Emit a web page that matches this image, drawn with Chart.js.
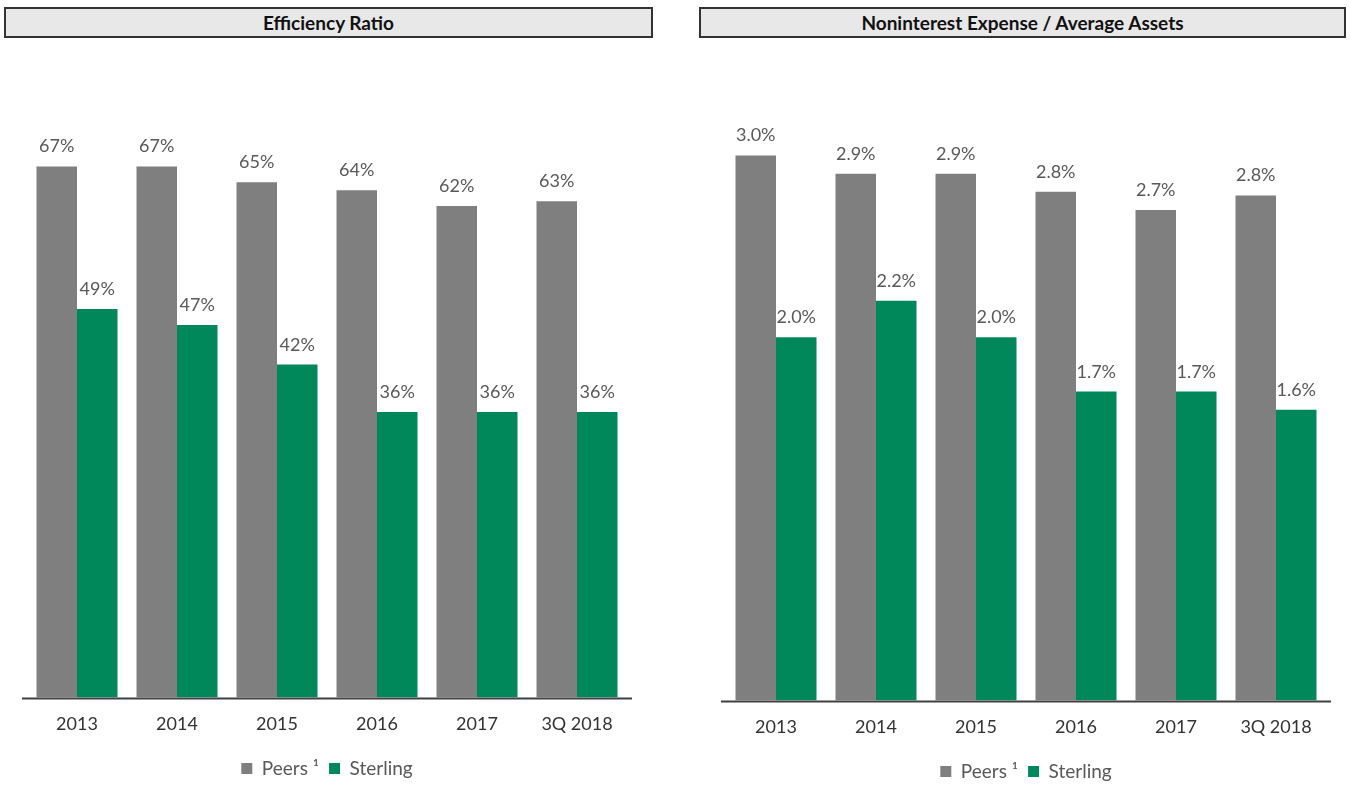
<!DOCTYPE html>
<html>
<head>
<meta charset="utf-8">
<script src="https://cdn.jsdelivr.net/npm/chart.js@4.4.0/dist/chart.umd.min.js"></script>
<style>
  body { margin: 0; background: #fff; width: 1350px; height: 785px; position: relative; overflow: hidden; font-family: Lato, 'Open Sans', sans-serif; }
  .title { position: absolute; top: 7px; height: 27px; border: 2px solid #333; background: #e8e8e8; font-weight: bold; font-size: 19px; text-align: center; line-height: 27px; color: #111; }
  .box { position: absolute; top: 40px; height: 760px; width: 675px; }
</style>
</head>
<body>
<div class="title" style="left:4px;width:645px">Efficiency Ratio</div>
<div class="title" style="left:699px;width:643px">Noninterest Expense / Average Assets</div>
<div class="box" style="left:0"><canvas id="effChart"></canvas></div>
<div class="box" style="left:675px"><canvas id="expChart"></canvas></div>
<script>
const categories = ['2013', '2014', '2015', '2016', '2017', '3Q 2018'];
const seriesNames = ['Peers \u00B9', 'Sterling'];

const effPeers = [67, 67, 65, 64, 62, 62.6];
const effSterling = [49, 47, 42, 36, 36, 36];

const expPeers = [3.0, 2.9, 2.9, 2.8, 2.7, 2.78];
const expSterling = [2.0, 2.2, 2.0, 1.7, 1.7, 1.6];

const GRAY = '#7f7f7f';
const GREEN = '#00885a';
const FONT = 'Lato, "Open Sans", sans-serif';

// value labels above bars + the dark baseline
const barLabels = {
  id: 'barLabels',
  afterDatasetsDraw(chart, args, opts) {
    const ctx = chart.ctx;
    ctx.save();
    ctx.font = '18px ' + FONT;
    ctx.fillStyle = '#595959';
    ctx.textAlign = 'center';
    ctx.textBaseline = 'alphabetic';
    chart.data.datasets.forEach((ds, i) => {
      chart.getDatasetMeta(i).data.forEach((bar, j) => {
        ctx.fillText(opts.format(ds.data[j]), bar.x, bar.y - 14);
      });
    });
    const a = chart.chartArea;
    ctx.strokeStyle = '#404040';
    ctx.lineWidth = 2;
    ctx.beginPath();
    ctx.moveTo(a.left - 5, a.bottom + 1);
    ctx.lineTo(a.right + 5, a.bottom + 1);
    ctx.stroke();
    ctx.restore();
  }
};

function makeChart(id, peers, sterling, yMax, pad, format) {
  return new Chart(document.getElementById(id), {
    type: 'bar',
    data: {
      labels: categories,
      datasets: [
        { label: seriesNames[0], data: peers, backgroundColor: GRAY },
        { label: seriesNames[1], data: sterling, backgroundColor: GREEN }
      ]
    },
    options: {
      responsive: true,
      maintainAspectRatio: false,
      animation: false,
      datasets: { bar: { categoryPercentage: 0.81, barPercentage: 1.0 } },
      layout: { padding: pad },
      scales: {
        x: {
          grid: { display: false, drawTicks: false },
          border: { display: false },
          ticks: { color: '#333', font: { family: FONT, size: 18 }, padding: 16 },
          afterFit(scale) { scale.height -= 2; }
        },
        y: { display: false, min: 0, max: yMax }
      },
      plugins: {
        legend: {
          position: 'bottom',
          labels: { color: '#595959', font: { family: FONT, size: 19 }, boxWidth: 11, boxHeight: 11, padding: 10 }
        },
        tooltip: { enabled: false },
        barLabels: { format: format }
      }
    },
    plugins: [barLabels]
  });
}

makeChart('effChart', effPeers, effSterling, 75,
  { left: 27, right: 48, top: 63, bottom: 12 }, v => Math.round(v) + '%');
makeChart('expChart', expPeers, expSterling, 3.3,
  { left: 51, right: 24, top: 61, bottom: 9 }, v => v.toFixed(1) + '%');
</script>
</body>
</html>
